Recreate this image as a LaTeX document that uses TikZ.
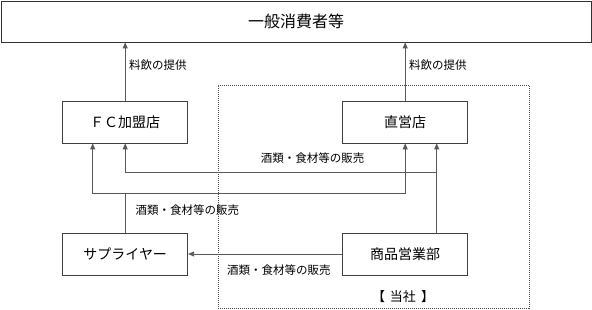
\documentclass[tikz,border=0pt]{standalone}
\usepackage{fontspec}
\setmainfont{Noto Sans CJK JP}
\usetikzlibrary{positioning,arrows.meta}

\begin{document}
\begin{tikzpicture}[x=1pt, y=-1pt, font=\fontsize{14}{16}\selectfont, align=center,
  box/.style={draw=black!75, line width=0.8pt, shape=rectangle, minimum width=125pt, minimum height=42pt},
  group/.style={draw=black!70, dash pattern=on 1pt off 1pt, line width=0.8pt, shape=rectangle},
  flow/.style={draw=black!65, line width=0.8pt, -{Triangle[length=6pt, width=5pt]}},
  lbl/.style={font=\fontsize{11.5}{13}\selectfont, inner sep=0pt}]

      \useasboundingbox (0,0) rectangle (592,310);

      \node[group, minimum width=311pt, minimum height=223pt] (company) at (373.5,196.5) {};
      \node[draw=black!80, line width=0.8pt, minimum width=590pt, minimum height=41pt, font=\fontsize{16}{18}\selectfont] (consumer) at (296,21.5) {一般消費者等};

      \node[box] (fc) at (125.2,122) {ＦＣ加盟店};
      \node[box] (direct) at (405.2,122) {直営店};
      \node[box] (supplier) at (125.2,254) {サプライヤー};
      \node[box] (sales) at (405.2,254) {商品営業部};

      \coordinate (fcLeft) at (92.7,193);
      \coordinate (supJoin) at (405.2,193);
      \coordinate (salesRight) at (436.7,233);
      \coordinate (salesJoin) at (125.2,172);

      \draw [flow] (fc.north) -- (fc.north |- consumer.south);
      \draw [flow] (direct.north) -- (direct.north |- consumer.south);

      \draw [flow] (supplier.north) |- (fcLeft) -- (fcLeft |- fc.south);
      \draw [flow] (supplier.north) |- (supJoin) -- (direct.south);
      \draw [flow] (salesRight) -- (salesRight |- direct.south);
      \draw [flow] (salesRight) |- (salesJoin) -- (fc.south);
      \draw [flow] (sales.west) -- (supplier.east);

      \node[lbl, anchor=west] (serveFC) at (129,65) {料飲の提供};
      \node[lbl, anchor=west] (serveDirect) at (409,65) {料飲の提供};
      \node[lbl] (sellTop) at (312.5,158) {酒類・食材等の販売};
      \node[lbl, anchor=west] (sellMid) at (135.5,210.5) {酒類・食材等の販売};
      \node[lbl, anchor=west] (sellLow) at (227,270) {酒類・食材等の販売};
      \node[lbl, font=\fontsize{13}{15}\selectfont] (ourCompany) at (403,297) {【\hspace{5pt}当社\hspace{5pt}】};
\end{tikzpicture}
\end{document}
